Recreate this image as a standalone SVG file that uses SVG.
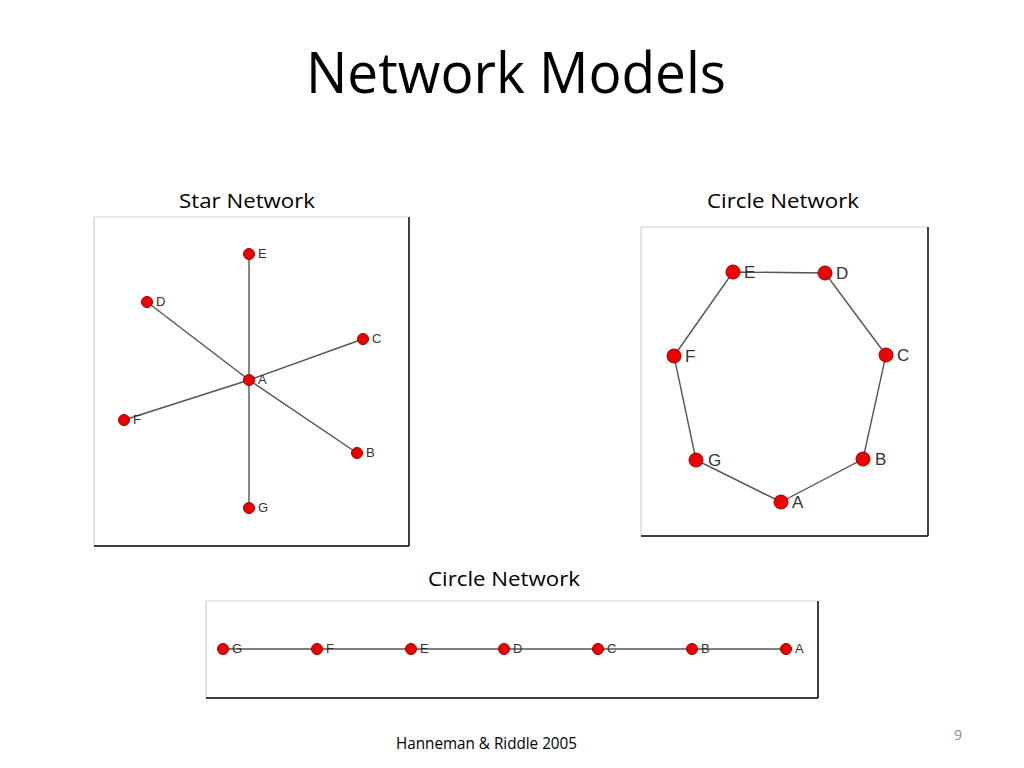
<svg xmlns="http://www.w3.org/2000/svg" width="1024" height="768" viewBox="0 0 1024 768">
<style>
.title{font-family:"Open Sans","Liberation Sans",sans-serif;fill:#000}
.cap{font-family:"Open Sans","Liberation Sans",sans-serif;font-size:20px;fill:#000}
.lbl{font-family:"Liberation Sans",Arial,sans-serif;fill:#333}
.s{font-size:13px}
.m{font-size:17px}
.edge{stroke:#555;stroke-width:1.4;fill:none}
.nd{fill:#ee0000;stroke:#900;stroke-width:1}
.lt{stroke:#d0d0d0;stroke-width:1.2}
.dk{stroke:#000;stroke-width:1.5}
</style>
<rect width="1024" height="768" fill="#fff"/>
<text class="title" x="306" y="93" font-size="56" textLength="420" lengthAdjust="spacingAndGlyphs">Network Models</text>
<text class="cap" x="179" y="208" textLength="136" lengthAdjust="spacingAndGlyphs">Star Network</text>
<text class="cap" x="707" y="208" textLength="152" lengthAdjust="spacingAndGlyphs">Circle Network</text>
<text class="cap" x="428" y="586" textLength="152" lengthAdjust="spacingAndGlyphs">Circle Network</text>
<text class="cap" x="396" y="749" style="font-size:17px" textLength="181" lengthAdjust="spacingAndGlyphs">Hanneman &amp; Riddle 2005</text>
<text x="954" y="740" style="font-family:'Open Sans','Liberation Sans',sans-serif;font-size:14px;fill:#888">9</text>

<g id="frames">
<line class="lt" x1="94" y1="217" x2="409" y2="217"/>
<line class="lt" x1="94" y1="217" x2="94" y2="546"/>
<line class="dk" x1="409" y1="217" x2="409" y2="546"/>
<line class="dk" x1="94" y1="546" x2="409" y2="546"/>
<line class="lt" x1="641" y1="227" x2="928" y2="227"/>
<line class="lt" x1="641" y1="227" x2="641" y2="536"/>
<line class="dk" x1="928" y1="227" x2="928" y2="536"/>
<line class="dk" x1="641" y1="536" x2="928" y2="536"/>
<line class="lt" x1="206" y1="601" x2="818" y2="601"/>
<line class="lt" x1="206" y1="601" x2="206" y2="698"/>
<line class="dk" x1="818" y1="601" x2="818" y2="698"/>
<line class="dk" x1="206" y1="698" x2="818" y2="698"/>
</g>

<g id="connectors">
<line class="edge" x1="249" y1="380" x2="249" y2="254"/>
<line class="edge" x1="249" y1="380" x2="147" y2="302"/>
<line class="edge" x1="249" y1="380" x2="363" y2="339"/>
<line class="edge" x1="249" y1="380" x2="124" y2="420"/>
<line class="edge" x1="249" y1="380" x2="357" y2="453"/>
<line class="edge" x1="249" y1="380" x2="249" y2="508"/>
<polygon class="edge" points="781,502 863,459 886,355 825,273 733,272 674,356 696,460"/>
<line class="edge" x1="223" y1="649" x2="786" y2="649"/>
</g>

<g id="star-nodes">
<g id="star-E"><circle class="nd" cx="249" cy="254" r="5.5"/><text class="lbl s" x="258" y="258">E</text></g>
<g id="star-D"><circle class="nd" cx="147" cy="302" r="5.5"/><text class="lbl s" x="156" y="306">D</text></g>
<g id="star-C"><circle class="nd" cx="363" cy="339" r="5.5"/><text class="lbl s" x="372" y="343">C</text></g>
<g id="star-A"><circle class="nd" cx="249" cy="380" r="5.5"/><text class="lbl s" x="258" y="384">A</text></g>
<g id="star-F"><circle class="nd" cx="124" cy="420" r="5.5"/><text class="lbl s" x="133" y="424">F</text></g>
<g id="star-B"><circle class="nd" cx="357" cy="453" r="5.5"/><text class="lbl s" x="366" y="457">B</text></g>
<g id="star-G"><circle class="nd" cx="249" cy="508" r="5.5"/><text class="lbl s" x="258" y="512">G</text></g>
</g>

<g id="circle-nodes">
<g id="circ-E"><circle class="nd" cx="733" cy="272" r="7"/><text class="lbl m" x="744" y="278">E</text></g>
<g id="circ-D"><circle class="nd" cx="825" cy="273" r="7"/><text class="lbl m" x="836" y="279">D</text></g>
<g id="circ-C"><circle class="nd" cx="886" cy="355" r="7"/><text class="lbl m" x="897" y="361">C</text></g>
<g id="circ-F"><circle class="nd" cx="674" cy="356" r="7"/><text class="lbl m" x="685" y="362">F</text></g>
<g id="circ-G"><circle class="nd" cx="696" cy="460" r="7"/><text class="lbl m" x="708" y="466">G</text></g>
<g id="circ-B"><circle class="nd" cx="863" cy="459" r="7"/><text class="lbl m" x="875" y="465">B</text></g>
<g id="circ-A"><circle class="nd" cx="781" cy="502" r="7"/><text class="lbl m" x="792" y="508">A</text></g>
</g>

<g id="line-nodes">
<g id="line-G"><circle class="nd" cx="223" cy="649" r="5.5"/><text class="lbl s" x="232" y="653">G</text></g>
<g id="line-F"><circle class="nd" cx="317" cy="649" r="5.5"/><text class="lbl s" x="326" y="653">F</text></g>
<g id="line-E"><circle class="nd" cx="411" cy="649" r="5.5"/><text class="lbl s" x="420" y="653">E</text></g>
<g id="line-D"><circle class="nd" cx="504" cy="649" r="5.5"/><text class="lbl s" x="513" y="653">D</text></g>
<g id="line-C"><circle class="nd" cx="598" cy="649" r="5.5"/><text class="lbl s" x="607" y="653">C</text></g>
<g id="line-B"><circle class="nd" cx="692" cy="649" r="5.5"/><text class="lbl s" x="701" y="653">B</text></g>
<g id="line-A"><circle class="nd" cx="786" cy="649" r="5.5"/><text class="lbl s" x="795" y="653">A</text></g>
</g>
</svg>
